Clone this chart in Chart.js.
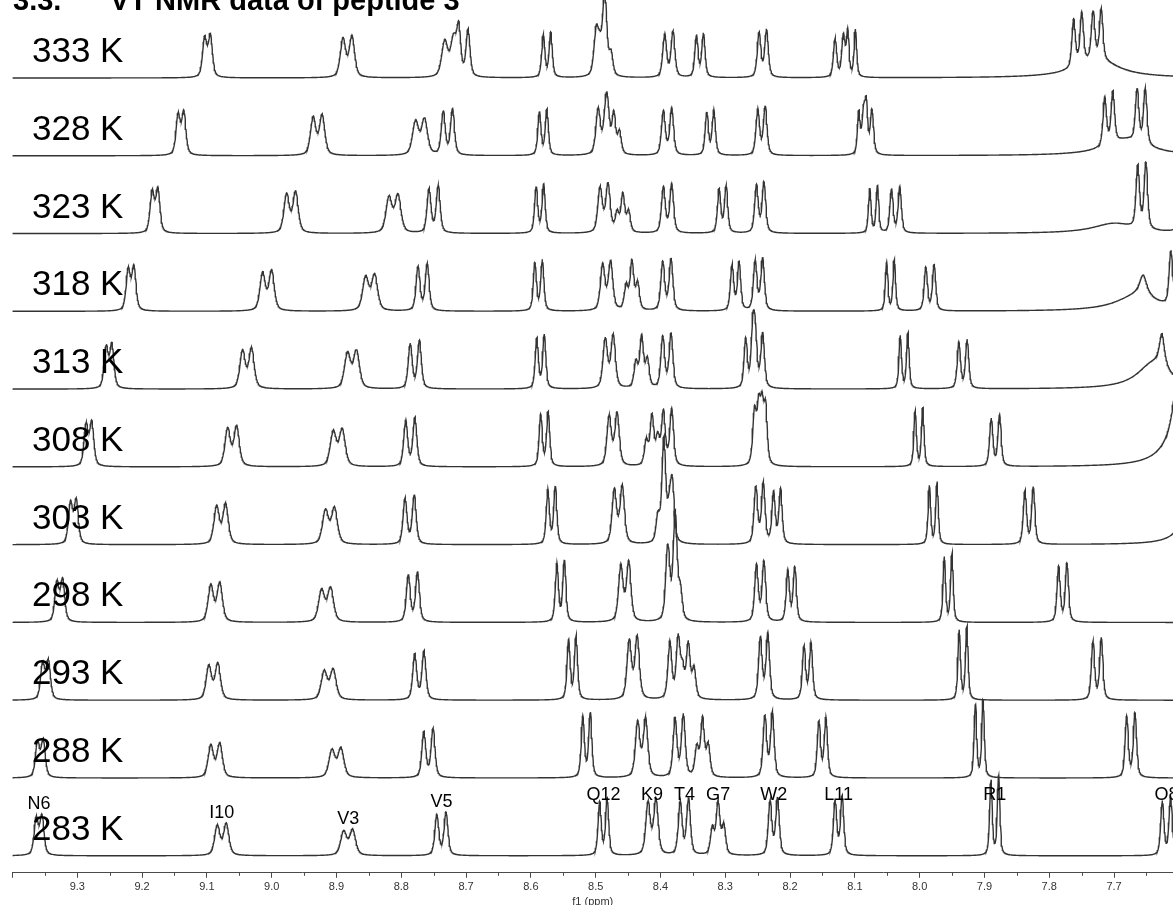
<!DOCTYPE html>
<html lang="en">
<head>
  <meta charset="UTF-8">
  <title>VT NMR data of peptide 3</title>
  <script src="https://cdn.jsdelivr.net/npm/chart.js"></script>
  <style>
    html, body {
      margin: 0;
      padding: 0;
      background: #FFFFFF;
      overflow: hidden;
    }
    canvas {
      display: block;
    }
  </style>
</head>
<body>
  <canvas id="spectra" width="1173" height="909"></canvas>

  <script>
    // temperatures of the stacked traces, bottom trace first
    const temps = [283, 288, 293, 298, 303, 308, 313, 318, 323, 328, 333];
    const residues = ['R1', 'W2', 'V3', 'T4', 'V5', 'N6', 'G7', 'O8', 'K9', 'I10', 'L11', 'Q12'];

    // amide NH chemical shifts (ppm), 283 K -> 333 K
    const shiftR1  = [7.884, 7.908, 7.933, 7.956, 7.979, 8.001, 8.024, 8.045, 8.071, 8.088, 8.105];
    const shiftW2  = [8.225, 8.233, 8.240, 8.246, 8.247, 8.249, 8.248, 8.248, 8.246, 8.244, 8.242];
    const shiftV3  = [8.882, 8.900, 8.912, 8.916, 8.910, 8.898, 8.876, 8.848, 8.812, 8.771, 8.726];
    const shiftT4  = [8.363, 8.371, 8.379, 8.383, 8.388, 8.389, 8.390, 8.390, 8.389, 8.389, 8.387];
    const shiftV5  = [8.738, 8.758, 8.772, 8.782, 8.787, 8.786, 8.779, 8.767, 8.750, 8.728, 8.704];
    const shiftN6  = [9.359, 9.357, 9.349, 9.327, 9.306, 9.282, 9.251, 9.217, 9.180, 9.140, 9.099];
    const shiftG7  = [8.311, 8.335, 8.357, 8.378, 8.395, 8.413, 8.429, 8.444, 8.458, 8.472, 8.485];
    const shiftO8  = [7.619, 7.674, 7.726, 7.779, 7.831, 7.883, 7.933, 7.984, 8.037, 8.080, 8.124];
    const shiftK9  = [8.413, 8.429, 8.442, 8.455, 8.465, 8.473, 8.479, 8.483, 8.487, 8.490, 8.493];
    const shiftI10 = [9.077, 9.087, 9.090, 9.087, 9.078, 9.061, 9.038, 9.007, 8.970, 8.929, 8.883];
    const shiftL11 = [8.125, 8.150, 8.173, 8.198, 8.220, 8.243, 8.263, 8.284, 8.304, 8.323, 8.339];
    const shiftQ12 = [8.488, 8.514, 8.536, 8.554, 8.568, 8.579, 8.585, 8.588, 8.586, 8.581, 8.575];

    // peak heights (intensity units), 283 K -> 333 K
    const heightR1  = [81, 79, 75, 70, 63, 60, 57, 52, 48, 45, 48];
    const heightW2  = [59, 67, 68, 62, 62, 58, 56, 54, 52, 50, 49];
    const heightV3  = [27, 31, 32, 36, 38, 39, 40, 38, 40, 38, 40];
    const heightT4  = [58, 64, 62, 60, 58, 58, 56, 53, 50, 48, 47];
    const heightV5  = [44, 50, 50, 51, 50, 50, 49, 48, 48, 47, 48];
    const heightN6  = [42, 40, 42, 45, 47, 47, 47, 47, 47, 46, 45];
    const heightG7  = [56, 61, 58, 56, 55, 52, 54, 51, 40, 42, 42];
    const heightO8  = [59, 66, 63, 60, 58, 52, 50, 47, 47, 45, 42];
    const heightK9  = [58, 61, 65, 62, 60, 55, 55, 51, 50, 50, 50];
    const heightI10 = [33, 36, 38, 41, 42, 42, 42, 42, 43, 42, 43];
    const heightL11 = [61, 61, 58, 56, 56, 55, 53, 50, 48, 46, 45];
    const heightQ12 = [58, 66, 65, 63, 59, 56, 55, 52, 50, 47, 46];

    // per residue: splitting (ppm), half width (ppm), number of lines
    const couplings  = [0.0118, 0.0115, 0.0138, 0.0128, 0.0142, 0.0088, 0.0088, 0.0128, 0.0122, 0.0138, 0.0108, 0.0115];
    const halfWidths = [0.0024, 0.0033, 0.0055, 0.0035, 0.0036, 0.0038, 0.0034, 0.0030, 0.0041, 0.0049, 0.0030, 0.0029];
    const lineCounts = [2, 2, 2, 2, 2, 2, 3, 2, 2, 2, 2, 2];

    // unassigned doublets that come in from the high-field edge when hot
    const extraShiftA  = [null, null, null, null, null, null, null, 7.606, 7.657, 7.708, 7.756];
    const extraHeightA = [null, null, null, null, null, null, null, 58, 68, 53, 52];
    const extraShiftB  = [null, null, null, null, null, null, null, null, 7.590, 7.658, 7.726];
    const extraHeightB = [null, null, null, null, null, null, null, null, 60, 57, 52];

    // exchange-broadened signal near the right edge: sharp part and broad hump
    const exchShift  = [null, null, null, null, 7.585, 7.600, 7.626, 7.655, null, null, null];
    const exchHeight = [null, null, null, null, 60, 90, 35, 22, null, null, null];
    const exchWidth  = [null, null, null, null, 0.008, 0.008, 0.005, 0.007, null, null, null];
    const humpShift  = [null, null, null, null, 7.580, 7.600, 7.640, 7.665, 7.700, 7.680, 7.726];
    const humpHeight = [null, null, null, null, 10, 25, 25, 15, 10, 16, 18];
    const humpWidth  = [null, null, null, null, 0.03, 0.03, 0.03, 0.04, 0.04, 0.04, 0.04];

    const residueShifts  = [shiftR1, shiftW2, shiftV3, shiftT4, shiftV5, shiftN6, shiftG7, shiftO8, shiftK9, shiftI10, shiftL11, shiftQ12];
    const residueHeights = [heightR1, heightW2, heightV3, heightT4, heightV5, heightN6, heightG7, heightO8, heightK9, heightI10, heightL11, heightQ12];

    const ppmMin = 7.609;
    const ppmMax = 9.4;
    const rowGap = 77.8;
    const offsets = temps.map((T, t) => 17 + t * rowGap);
    const lorentzPart = 0.5;

    // pseudo-Voigt line of unit height, d = distance / half width
    function shape(d, eta) {
      return eta / (1 + d * d) + (1 - eta) * Math.exp(-Math.LN2 * d * d);
    }

    // list of [centre, amplitude, half width, lorentzian fraction] for one trace
    function linesFor(t) {
      const lines = [];
      residueShifts.forEach((shifts, r) => {
        const c = shifts[t];
        const h = residueHeights[r][t];
        const J = couplings[r];
        const w = halfWidths[r];
        const f = shape(J / w, lorentzPart);
        if (lineCounts[r] === 3) {
          const a = h / (2 + 2 * f);
          lines.push([c + J, a, w, lorentzPart], [c, 2 * a, w, lorentzPart], [c - J, a * 1.1, w, lorentzPart]);
        } else {
          const a = h / (1 + f);
          lines.push([c + J / 2, a * 0.94, w, lorentzPart], [c - J / 2, a, w, lorentzPart]);
        }
      });
      [[extraShiftA, extraHeightA], [extraShiftB, extraHeightB]].forEach(([s, hs]) => {
        if (s[t] === null) return;
        const J = 0.0125, w = 0.0032;
        const a = hs[t] / (1 + shape(J / w, lorentzPart));
        lines.push([s[t] + J / 2, a * 0.94, w, lorentzPart], [s[t] - J / 2, a, w, lorentzPart]);
      });
      if (exchShift[t] !== null) lines.push([exchShift[t], exchHeight[t], exchWidth[t], 1]);
      if (humpShift[t] !== null) lines.push([humpShift[t], humpHeight[t], humpWidth[t], 1]);
      return lines;
    }

    function trace(t) {
      const lines = linesFor(t);
      const pts = [];
      const step = 0.0007;
      const n = Math.ceil((ppmMax + 0.005 - 7.600) / step);
      for (let k = 0; k <= n; k++) {
        const x = 7.600 + k * step;
        let y = 0;
        for (const [c, a, w, eta] of lines) {
          y += a * shape((x - c) / w, eta);
        }
        pts.push({ x: x, y: offsets[t] + y });
      }
      return pts;
    }

    const annotate = {
      id: 'annotate',
      afterDatasetsDraw(chart) {
        const { ctx, scales: { x, y } } = chart;
        ctx.save();
        ctx.fillStyle = '#000000';

        // temperature of each trace
        ctx.font = '35px "Liberation Sans", Arial, sans-serif';
        ctx.textAlign = 'left';
        ctx.textBaseline = 'alphabetic';
        temps.forEach((T, t) => {
          ctx.fillText(T + ' K', 32, y.getPixelForValue(offsets[t]) - 16);
        });

        // assignments over the 283 K trace
        ctx.font = '18px "Liberation Sans", Arial, sans-serif';
        ctx.textAlign = 'center';
        const base = y.getPixelForValue(offsets[0]);
        residues.forEach((name, r) => {
          const top = y.getPixelForValue(offsets[0] + residueHeights[r][0]);
          ctx.fillText(name, x.getPixelForValue(residueShifts[r][0]), Math.max(top - 5, base - 56));
        });

        // short minor ticks halfway between the labelled ones
        ctx.strokeStyle = '#4a4a4a';
        ctx.lineWidth = 1;
        ctx.beginPath();
        x.ticks.forEach(tk => {
          const v = tk.value - 0.05;
          if (v < ppmMin) return;
          const px = Math.round(x.getPixelForValue(v)) + 0.5;
          ctx.moveTo(px, x.top);
          ctx.lineTo(px, x.top + 3);
        });
        ctx.stroke();

        // section heading, mostly above the page
        ctx.font = 'bold 29px "Liberation Sans", Arial, sans-serif';
        ctx.textAlign = 'left';
        ctx.fillText('3.3.', 13, 10);
        ctx.fillText('VT NMR data of peptide 3', 110, 10);
        ctx.restore();
      }
    };

    Chart.defaults.font.family = '"Liberation Sans", Arial, sans-serif';

    new Chart(document.getElementById('spectra'), {
      type: 'line',
      data: {
        datasets: temps.map((T, t) => ({
          label: T + ' K',
          data: trace(t),
          borderColor: '#333333',
          borderWidth: 1.4,
          pointRadius: 0,
          tension: 0,
          fill: false
        }))
      },
      options: {
        responsive: false,
        animation: false,
        parsing: false,
        normalized: true,
        events: [],
        layout: { padding: { left: 12.5, right: 0, top: 0, bottom: 0 } },
        plugins: {
          legend: { display: false },
          tooltip: { enabled: false }
        },
        scales: {
          x: {
            type: 'linear',
            reverse: true,
            min: ppmMin,
            max: ppmMax,
            border: { display: true, color: '#4a4a4a', width: 1 },
            grid: { drawOnChartArea: false, drawTicks: true, tickLength: 5, color: '#4a4a4a' },
            ticks: {
              stepSize: 0.1,
              includeBounds: false,
              autoSkip: false,
              maxTicksLimit: 50,
              maxRotation: 0,
              padding: 2.4,
              color: '#333333',
              font: { size: 11 },
              callback: v => (v > 9.35 ? '' : v.toFixed(1))
            },
            title: {
              display: true,
              text: 'f1 (ppm)',
              color: '#333333',
              font: { size: 11 },
              padding: { top: 0, bottom: 0 }
            }
          },
          y: {
            display: false,
            min: 0,
            max: 873
          }
        }
      },
      plugins: [annotate]
    });
  </script>
</body>
</html>
